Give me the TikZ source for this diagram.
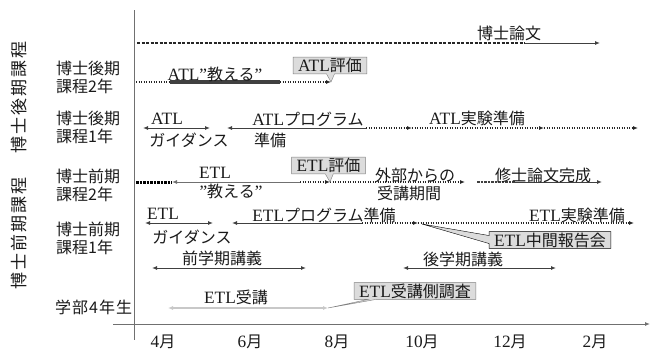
\documentclass[tikz,border=0pt]{standalone}
\usepackage{fontspec}
\setmainfont{Liberation Serif}[Scale=1.08]
\newfontfamily\jp{Noto Sans CJK JP}
\usetikzlibrary{arrows.meta,shapes.callouts}
\definecolor{ln}{HTML}{404040}
\definecolor{dk}{HTML}{262626}
\definecolor{ln2}{HTML}{707070}
\definecolor{lite}{HTML}{C8C8C8}
\definecolor{boxf}{HTML}{DCDCDC}
\definecolor{txt}{HTML}{1A1A1A}
\begin{document}
\begin{tikzpicture}[x=1pt,y=-1pt,
  every node/.style={inner sep=0pt,text=txt,font=\fontsize{16}{18}\selectfont},
  arr/.style={-{Latex[length=5pt,width=4pt]}},
  darr/.style={{Latex[length=5pt,width=4pt]}-{Latex[length=5pt,width=4pt]}},
  solidln/.style={draw=ln,line width=1pt},
  dotln/.style={draw=dk,line width=1.7pt,dash pattern=on 1.3pt off 1.2pt},
  dashln/.style={draw=dk,line width=1.6pt,dash pattern=on 3pt off 1.5pt},
  thickdash/.style={draw=black,line width=3pt,dash pattern=on 2.5pt off 1pt},
  callbox/.style={rectangle callout,draw=gray,fill=boxf,inner xsep=5pt,inner ysep=1pt,callout pointer width=8pt},
  axisln/.style={draw=ln2,line width=1pt},
  rowlbl/.style={align=left,anchor=west},
  vlbl/.style={rotate=90,font=\fontsize{17}{19}\selectfont\jp},
  ]
\fill[white] (0,0) rectangle (659,351);
\useasboundingbox (0,0) rectangle (659,351);

% axes
\coordinate (yT) at (134,10);
\coordinate (yB) at (134,340);
\coordinate (xL) at (113,324);
\coordinate (xR) at (650,324);
\draw[axisln] (yT) -- (yB);
\draw[axisln,arr] (xL) -- (xR);

% month labels
\node (m4) at (163,342) {4{\jp 月}};
\node (m6) at (250,342) {6{\jp 月}};
\node (m8) at (337,342) {8{\jp 月}};
\node (m10) at (422,342) {10{\jp 月}};
\node (m12) at (510,342) {12{\jp 月}};
\node (m2) at (595,342) {2{\jp 月}};

% left labels
\node[vlbl] (vD) at (19,97) {博\hspace{2pt}士\hspace{2pt}後\hspace{2pt}期\hspace{2pt}課\hspace{2pt}程};
\node[vlbl] (vM) at (19,233) {博\hspace{2pt}士\hspace{2pt}前\hspace{2pt}期\hspace{2pt}課\hspace{2pt}程};
\node[rowlbl] (l2) at (56,77) {\jp 博士後期\\\jp 課程2年};
\node[rowlbl] (l1) at (56,127) {\jp 博士後期\\\jp 課程1年};
\node[rowlbl] (lm2) at (56,185) {\jp 博士前期\\\jp 課程2年};
\node[rowlbl] (lm1) at (56,238) {\jp 博士前期\\\jp 課程1年};
\node[rowlbl] (lu4) at (55,307) {\jp 学\hspace{1pt}部\hspace{1pt}4\hspace{1pt}年\hspace{1pt}生};

% row 1
\coordinate (r1a) at (137,43);
\coordinate (r1b) at (525,43);
\coordinate (r1c) at (600,43);
\draw[dashln] (r1a) -- (r1b);
\draw[solidln,arr] (r1b) -- (r1c);
\node (t1) at (509,33) {\jp 博士論文};

% row 2
\coordinate (r2a) at (136,82);
\coordinate (r2b) at (170,82);
\coordinate (r2c) at (280,82);
\coordinate (r2d) at (331,82);
\draw[dotln] (r2a) -- (r2b);
\draw[draw=ln,line width=3.2pt] (r2b) -- (r2c);
\draw[dotln,arr] (r2c) -- (r2d);
\node (t2) at (215,74) {ATL”{\jp 教える}”};
\node[callbox,callout absolute pointer={(r2d)}] (c2) at (330,65.5) {ATL{\jp 評価}};

% row 3
\coordinate (r3a) at (143,128);
\coordinate (r3b) at (210,128);
\coordinate (r3c) at (227,128);
\coordinate (r3d) at (366,128);
\coordinate (r3e) at (412,128);
\coordinate (r3f) at (544,128);
\coordinate (r3g) at (638,128);
\draw[solidln,darr] (r3a) -- (r3b);
\draw[solidln,arr] (r3d) -- (r3c);
\draw[dotln,arr] (r3d) -- (r3e);
\draw[dotln,arr] (r3e) -- (r3f);
\draw[dotln,arr] (r3f) -- (r3g);
\node (t3a) at (167,119) {ATL};
\node (t3b) at (189,140) {\jp ガイダンス};
\node (t3c) at (308,119) {ATL{\jp プログラム}};
\node (t3d) at (270,140) {\jp 準備};
\node (t3e) at (477,118) {ATL{\jp 実験準備}};

% row 4
\coordinate (r4a) at (136,182);
\coordinate (r4b) at (172,182);
\coordinate (r4c) at (300,182);
\coordinate (r4d) at (330,182);
\coordinate (r4e) at (465,182);
\coordinate (r4f) at (477,182);
\coordinate (r4g) at (515,182);
\coordinate (r4h) at (602,182);
\draw[thickdash] (r4a) -- (r4b);
\draw[draw=ln2,line width=1pt,arr] (r4c) -- (r4b);
\draw[dotln,arr] (r4c) -- (r4d);
\draw[dotln,arr] (r4d) -- (r4e);
\draw[thickdash,line width=2.4pt,draw=ln] (r4f) -- (r4g);
\draw[solidln,arr] (r4g) -- (r4h);
\node (t4a) at (215,173) {ETL};
\node (t4b) at (231,191) {”{\jp 教える}”};
\node[callbox,callout absolute pointer={(r4d)}] (c4) at (328.5,165.5) {ETL{\jp 評価}};
\node (t4c) at (415,175) {\jp 外部からの};
\node (t4d) at (409,193) {\jp 受講期間};
\node (t4e) at (543,175) {\jp 修士論文完成};

% row 5
\coordinate (r5a) at (145,223);
\coordinate (r5b) at (213,223);
\coordinate (r5c) at (232,223);
\coordinate (r5d) at (362,223);
\coordinate (r5e) at (418,223);
\coordinate (r5f) at (634,223);
\coordinate (r5p) at (422,224);
\draw[solidln,darr] (r5a) -- (r5b);
\draw[solidln,arr] (r5d) -- (r5c);
\draw[dotln,arr] (r5d) -- (r5e);
\draw[dotln,arr] (r5e) -- (r5f);
\node (t5a) at (163,214) {ETL};
\node (t5b) at (192,237) {\jp ガイダンス};
\node (t5c) at (324,215) {ETL{\jp プログラム準備}};
\node (t5d) at (577,215) {ETL{\jp 実験準備}};
\node[callbox,draw=black,callout absolute pointer={(r5p)}] (c5) at (550,240) {ETL{\jp 中間報告会}};

% row 6
\coordinate (r6a) at (152,268);
\coordinate (r6b) at (306,268);
\coordinate (r6c) at (403,268);
\coordinate (r6d) at (556,268);
\draw[solidln,darr] (r6a) -- (r6b);
\draw[solidln,darr] (r6c) -- (r6d);
\node (t6a) at (222,258) {\jp 前学期講義};
\node (t6b) at (463,259) {\jp 後学期講義};

% row 7
\coordinate (r7a) at (168,308);
\coordinate (r7b) at (328,308);
\draw[draw=lite,line width=1.2pt,darr] (r7a) -- (r7b);
\node (t7a) at (236,297) {ETL{\jp 受講}};
\node[callbox,callout absolute pointer={(r7b)}] (c7) at (415,291) {ETL{\jp 受講側調査}};
\end{tikzpicture}
\end{document}
